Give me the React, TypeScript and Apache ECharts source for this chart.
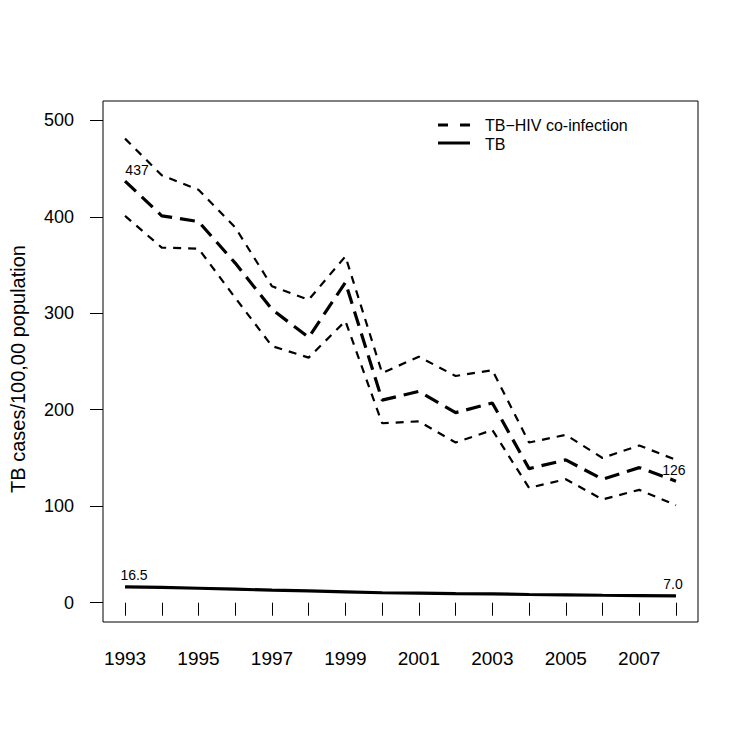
import React, { useEffect, useRef } from "react";
import * as echarts from "echarts";

const years = [1993, 1994, 1995, 1996, 1997, 1998, 1999, 2000, 2001, 2002, 2003, 2004, 2005, 2006, 2007, 2008];
const coinfection = [437, 401, 395, 352, 304, 275, 332, 210, 219, 197, 207, 139, 148, 128, 140, 126];
const coinfectionUpper = [481, 443, 428, 389, 328, 314, 359, 238, 255, 235, 241, 166, 174, 150, 163, 148];
const coinfectionLower = [401, 368, 367, 316, 266, 254, 292, 186, 188, 166, 179, 119, 128, 107, 117, 101];
const tb = [16.5, 15.8, 15.0, 14.0, 13.0, 12.2, 11.3, 10.3, 10.0, 9.5, 9.2, 8.5, 8.2, 7.7, 7.4, 7.0];
const coinfectionLabels = ["437", "126"];
const tbLabels = ["16.5", "7.0"];
const xTickValues = years;
const xLabelValues = [1993, 1995, 1997, 1999, 2001, 2003, 2005, 2007];
const yTickValues = [0, 100, 200, 300, 400, 500];
const yTitle = "TB cases/100,00 population";

const FONT = "Liberation Sans, Arial, sans-serif";

export default function App() {
  const ref = useRef<HTMLDivElement>(null);
  useEffect(() => {
    if (!ref.current) return;
    const chart = echarts.init(ref.current, null, { renderer: "svg" });
    const pair = (arr: number[]) => arr.map((v, i) => [years[i], v]);
    const labelled = (arr: number[], texts: string[], firstOff: number[], lastOff: number[]) =>
      arr.map((v, i) => {
        const isFirst = i === 0;
        const isLast = i === arr.length - 1;
        if (!isFirst && !isLast) return { value: [years[i], v], label: { show: false } };
        return {
          value: [years[i], v],
          label: {
            show: true,
            position: "top",
            distance: 4,
            offset: isFirst ? firstOff : lastOff,
            formatter: isFirst ? texts[0] : texts[1],
            color: "#000",
            fontFamily: FONT,
            fontSize: 14,
          },
        };
      });
    chart.setOption({
      animation: false,
      backgroundColor: "#fff",
      grid: {
        left: 95,
        top: 93,
        width: 595,
        height: 521,
        show: true,
        borderColor: "#000",
        borderWidth: 1,
        backgroundColor: "transparent",
      },
      xAxis: {
        type: "value",
        min: 1992.4,
        max: 2008.6,
        axisLine: { show: false },
        splitLine: { show: false },
        axisTick: {
          show: true,
          length: 13,
          customValues: xTickValues,
          lineStyle: { color: "#000", width: 1 },
        },
        axisLabel: {
          customValues: xLabelValues,
          formatter: (v: number) => String(v),
          margin: 27,
          color: "#000",
          fontFamily: FONT,
          fontSize: 19,
        },
      },
      yAxis: {
        type: "value",
        min: -20,
        max: 520,
        axisLine: { show: false },
        splitLine: { show: false },
        axisTick: {
          show: true,
          length: 13,
          customValues: yTickValues,
          lineStyle: { color: "#000", width: 1 },
        },
        axisLabel: {
          customValues: yTickValues,
          margin: 29,
          color: "#000",
          fontFamily: FONT,
          fontSize: 18,
        },
      },
      series: [
        {
          name: "upper",
          type: "line",
          data: pair(coinfectionUpper),
          symbol: "none",
          lineStyle: { color: "#000", width: 2.2, type: [8, 7] },
        },
        {
          name: "lower",
          type: "line",
          data: pair(coinfectionLower),
          symbol: "none",
          lineStyle: { color: "#000", width: 2.2, type: [8, 7] },
        },
        {
          name: "TB-HIV co-infection",
          type: "line",
          data: labelled(coinfection, coinfectionLabels, [12, 0], [-2, 0]),
          symbol: "circle",
          symbolSize: 0,
          showSymbol: true,
          itemStyle: { color: "#000" },
          lineStyle: { color: "#000", width: 3.2, type: [15, 8] },
        },
        {
          name: "TB",
          type: "line",
          data: labelled(tb, tbLabels, [9, -1], [-3, -1]),
          symbol: "circle",
          symbolSize: 0,
          showSymbol: true,
          itemStyle: { color: "#000" },
          lineStyle: { color: "#000", width: 3.2 },
        },
      ],
      graphic: [
        {
          type: "text",
          x: 10,
          y: 361,
          rotation: Math.PI / 2,
          style: {
            text: yTitle,
            fill: "#000",
            font: `20px ${FONT}`,
            textAlign: "center",
            textVerticalAlign: "middle",
          },
        },
        {
          type: "line",
          shape: { x1: 430, y1: 117, x2: 462, y2: 117 },
          style: { stroke: "#000", lineWidth: 3, lineDash: [10, 12] },
        },
        {
          type: "text",
          x: 477,
          y: 117,
          style: {
            text: "TB\u2212HIV co-infection",
            fill: "#000",
            font: `16px ${FONT}`,
            textVerticalAlign: "middle",
          },
        },
        {
          type: "line",
          shape: { x1: 430, y1: 135, x2: 462, y2: 135 },
          style: { stroke: "#000", lineWidth: 3 },
        },
        {
          type: "text",
          x: 477,
          y: 136,
          style: {
            text: "TB",
            fill: "#000",
            font: `16px ${FONT}`,
            textVerticalAlign: "middle",
          },
        },
      ],
    });
    return () => chart.dispose();
  }, []);
  return <div ref={ref} style={{ width: 750, height: 750 }} />;
}
